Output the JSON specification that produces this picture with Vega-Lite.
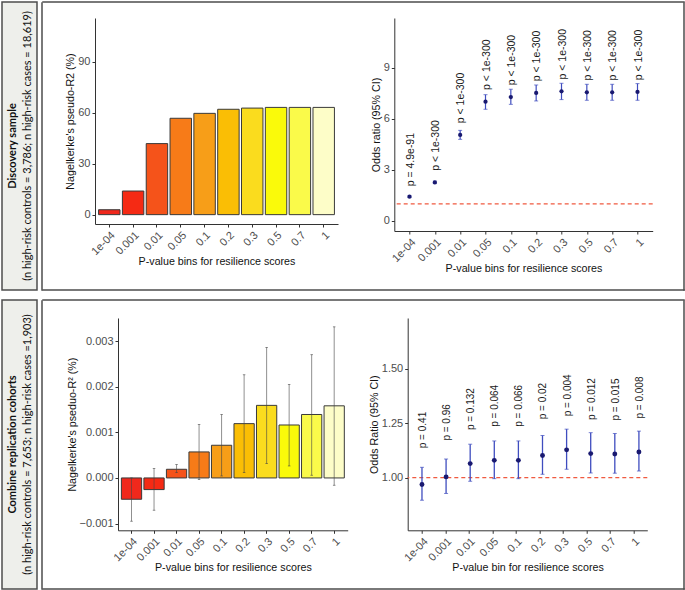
{
 "$schema": "https://vega.github.io/schema/vega-lite/v6.json",
 "padding": {"left": 1, "top": 1, "right": 1, "bottom": 1},
 "background": "white",
 "config": {
  "view": {"stroke": null},
  "font": "Liberation Sans",
  "axis": {"grid": false, "domainColor": "#333333", "tickColor": "#333333", "labelColor": "#4D4D4D", "labelFontSize": 11, "titleFontSize": 10.7, "titleFontWeight": "normal", "titleColor": "#111111", "tickSize": 3, "labelPadding": 2, "domainWidth": 1, "tickWidth": 1},
  "axisY": {"titlePadding": 2},
  "axisX": {"titlePadding": 0}
 },
 "datasets": {
  "tl": [
   {"bin": "1e-04", "r2": 2.9}, {"bin": "0.001", "r2": 13.9}, {"bin": "0.01", "r2": 41.8}, {"bin": "0.05", "r2": 56.7}, {"bin": "0.1", "r2": 59.6},
   {"bin": "0.2", "r2": 62.0}, {"bin": "0.3", "r2": 62.7}, {"bin": "0.5", "r2": 63.1}, {"bin": "0.7", "r2": 63.1}, {"bin": "1", "r2": 63.1}
  ],
  "tr": [
   {"bin": "1e-04", "or": 1.43, "lo": 1.38, "hi": 1.48, "label": "p = 4.9e-91"},
   {"bin": "0.001", "or": 2.27, "lo": 2.2, "hi": 2.34, "label": "p < 1e-300"},
   {"bin": "0.01", "or": 5.06, "lo": 4.8, "hi": 5.33, "label": "p < 1e-300"},
   {"bin": "0.05", "or": 7.02, "lo": 6.57, "hi": 7.43, "label": "p < 1e-300"},
   {"bin": "0.1", "or": 7.29, "lo": 6.86, "hi": 7.75, "label": "p < 1e-300"},
   {"bin": "0.2", "or": 7.53, "lo": 7.06, "hi": 8.0, "label": "p < 1e-300"},
   {"bin": "0.3", "or": 7.63, "lo": 7.14, "hi": 8.1, "label": "p < 1e-300"},
   {"bin": "0.5", "or": 7.57, "lo": 7.1, "hi": 8.04, "label": "p < 1e-300"},
   {"bin": "0.7", "or": 7.57, "lo": 7.1, "hi": 8.04, "label": "p < 1e-300"},
   {"bin": "1", "or": 7.59, "lo": 7.1, "hi": 8.08, "label": "p < 1e-300"}
  ],
  "bl": [
   {"bin": "1e-04", "r2": -0.000467, "lo": -0.000948, "hi": 0.0},
   {"bin": "0.001", "r2": -0.000255, "lo": -0.000707, "hi": 0.000205},
   {"bin": "0.01", "r2": 0.00019, "lo": 0.000118, "hi": 0.000293},
   {"bin": "0.05", "r2": 0.00057, "lo": -0.000036, "hi": 0.00117},
   {"bin": "0.1", "r2": 0.000716, "lo": 0.000044, "hi": 0.00139},
   {"bin": "0.2", "r2": 0.00119, "lo": 0.000118, "hi": 0.00226},
   {"bin": "0.3", "r2": 0.00159, "lo": 0.000315, "hi": 0.00286},
   {"bin": "0.5", "r2": 0.00116, "lo": 0.000263, "hi": 0.00205},
   {"bin": "0.7", "r2": 0.00139, "lo": 0.000059, "hi": 0.0027},
   {"bin": "1", "r2": 0.00158, "lo": -0.00016, "hi": 0.00331}
  ],
  "br": [
   {"bin": "1e-04", "or": 0.968, "lo": 0.896, "hi": 1.047, "label": "p = 0.41"},
   {"bin": "0.001", "or": 1.003, "lo": 0.927, "hi": 1.085, "label": "p = 0.96"},
   {"bin": "0.01", "or": 1.064, "lo": 0.983, "hi": 1.153, "label": "p = 0.132"},
   {"bin": "0.05", "or": 1.079, "lo": 0.995, "hi": 1.168, "label": "p = 0.064"},
   {"bin": "0.1", "or": 1.079, "lo": 0.995, "hi": 1.168, "label": "p = 0.066"},
   {"bin": "0.2", "or": 1.101, "lo": 1.015, "hi": 1.193, "label": "p = 0.02"},
   {"bin": "0.3", "or": 1.127, "lo": 1.038, "hi": 1.222, "label": "p = 0.004"},
   {"bin": "0.5", "or": 1.11, "lo": 1.021, "hi": 1.206, "label": "p = 0.012"},
   {"bin": "0.7", "or": 1.108, "lo": 1.02, "hi": 1.202, "label": "p = 0.015"},
   {"bin": "1", "or": 1.117, "lo": 1.03, "hi": 1.213, "label": "p = 0.008"}
  ],
  "ref": [{"ref": 1}],
  "strips": [
   {"row": 1, "title": "Discovery sample", "sub": "(n high-risk controls = 3,786; n high-risk cases = 18,619)"},
   {"row": 2, "title": "Combine replication cohorts", "sub": "(n high-risk controls = 7,653; n high-risk cases =1,903)"}
  ]
 },
 "vconcat": [
  {
   "hconcat": [
    {
     "width": 35, "height": 288,
     "view": {"stroke": "#4d4d4d", "strokeWidth": 1.5, "fill": "#EEEFEB"},
     "data": {"name": "strips"},
     "transform": [{"filter": "datum.row == 1"}],
     "layer": [
      {"mark": {"type": "text", "angle": 270, "align": "center", "baseline": "middle", "font": "Lato", "fontWeight": "bold", "fontSize": 11, "dy": -6.5, "color": "#111"}, "encoding": {"text": {"field": "title"}}},
      {"mark": {"type": "text", "angle": 270, "align": "center", "baseline": "middle", "font": "Lato", "fontSize": 11, "dy": 8.5, "color": "#111"}, "encoding": {"text": {"field": "sub"}}}
     ]
    },
    {
     "columns": 3, "align": "each", "bounds": "flush", "spacing": 0,
     "concat": [
      {"width": 0.001, "height": 0.001, "data": {"values": []}, "mark": "point"},
      {"width": 641, "height": 0.001, "view": {"stroke": "#4d4d4d", "strokeWidth": 1.5}, "data": {"values": []}, "mark": "point"},
      {"width": 0.001, "height": 0.001, "data": {"values": []}, "mark": "point"},
      {"width": 0.001, "height": 287, "view": {"stroke": "#4d4d4d", "strokeWidth": 1.5}, "data": {"values": []}, "mark": "point"},
      {
       "vconcat": [
        {"width": 0.001, "height": 15, "data": {"values": []}, "mark": "point"},
        {
         "hconcat": [
          {"width": 52, "height": 0.001, "data": {"values": []}, "mark": "point"},
          {
           "hconcat": [
            {
             "width": 243, "height": 206,
             "data": {"name": "tl"},
             "mark": {"type": "bar", "stroke": "#3a3a3a", "strokeWidth": 1},
             "encoding": {
              "x": {"field": "bin", "type": "nominal", "sort": null, "scale": {"type": "band", "paddingInner": 0.1, "paddingOuter": 0.15}, "axis": {"title": "P-value bins for resilience scores", "labelAngle": -45, "labelAlign": "right", "labelBaseline": "top"}},
              "y": {"field": "r2", "type": "quantitative", "scale": {"domain": [-5.5, 115.7], "nice": false, "zero": false}, "axis": {"values": [0, 30, 60, 90], "title": "Nagelkerke's pseudo-R2 (%)"}},
              "y2": {"datum": 0},
              "color": {"field": "bin", "type": "nominal", "sort": null, "legend": null, "scale": {"range": ["#F0281C", "#F52A14", "#F5531A", "#F77B18", "#F79E18", "#FABE05", "#FADC1E", "#FAFA0A", "#FAFA4A", "#FDFDC8"]}}
             }
            },
            {
             "width": 258.4, "height": 213,
             "layer": [
              {
               "data": {"name": "ref"},
               "mark": {"type": "rule", "color": "#F05A40", "strokeDash": [4, 3], "strokeWidth": 1.2},
               "encoding": {"y": {"field": "ref", "type": "quantitative", "title": "Odds ratio (95% CI)", "scale": {"domain": [-0.59, 11.94], "nice": false, "zero": false}, "axis": {"values": [0, 3, 6, 9]}}}
              },
              {
               "data": {"name": "tr"},
               "mark": {"type": "rule", "color": "#3F4DBF", "strokeWidth": 1.2},
               "encoding": {
                "x": {"field": "bin", "type": "nominal", "sort": null, "scale": {"type": "point", "padding": 0.6}, "axis": {"title": "P-value bins for resilience scores", "labelAngle": -45, "labelAlign": "right", "labelBaseline": "top"}},
                "y": {"field": "lo", "type": "quantitative", "title": "Odds ratio (95% CI)"},
                "y2": {"field": "hi"}
               }
              },
              {
               "data": {"name": "tr"},
               "mark": {"type": "tick", "color": "#3F4DBF", "size": 4, "thickness": 1},
               "encoding": {
                "x": {"field": "bin", "type": "nominal", "sort": null, "title": "P-value bins for resilience scores"},
                "y": {"field": "lo", "type": "quantitative", "title": "Odds ratio (95% CI)"}
               }
              },
              {
               "data": {"name": "tr"},
               "mark": {"type": "tick", "color": "#3F4DBF", "size": 4, "thickness": 1},
               "encoding": {
                "x": {"field": "bin", "type": "nominal", "sort": null, "title": "P-value bins for resilience scores"},
                "y": {"field": "hi", "type": "quantitative", "title": "Odds ratio (95% CI)"}
               }
              },
              {
               "data": {"name": "tr"},
               "mark": {"type": "point", "filled": true, "color": "#191970", "size": 18, "opacity": 1},
               "encoding": {
                "x": {"field": "bin", "type": "nominal", "sort": null, "title": "P-value bins for resilience scores"},
                "y": {"field": "or", "type": "quantitative", "title": "Odds ratio (95% CI)"}
               }
              },
              {
               "data": {"name": "tr"},
               "mark": {"type": "text", "angle": 270, "align": "center", "baseline": "middle", "dx": 37, "dy": 1, "fontSize": 10.5, "color": "#1a1a1a"},
               "encoding": {
                "x": {"field": "bin", "type": "nominal", "sort": null, "title": "P-value bins for resilience scores"},
                "y": {"field": "or", "type": "quantitative", "title": "Odds ratio (95% CI)"},
                "text": {"field": "label"}
               }
              }
             ]
            }
           ],
           "spacing": 56.3, "bounds": "flush"
          }
         ],
         "spacing": 0, "bounds": "flush"
        }
       ],
       "spacing": 0, "bounds": "flush"
      },
      {"width": 0.001, "height": 287, "view": {"stroke": "#4d4d4d", "strokeWidth": 1.5}, "data": {"values": []}, "mark": "point"},
      {"width": 0.001, "height": 0.001, "data": {"values": []}, "mark": "point"},
      {"width": 641, "height": 0.001, "view": {"stroke": "#4d4d4d", "strokeWidth": 1.5}, "data": {"values": []}, "mark": "point"},
      {"width": 0.001, "height": 0.001, "data": {"values": []}, "mark": "point"}
     ]
    }
   ],
   "spacing": 3
  },
  {
   "hconcat": [
    {
     "width": 35, "height": 289,
     "view": {"stroke": "#4d4d4d", "strokeWidth": 1.5, "fill": "#EEEFEB"},
     "data": {"name": "strips"},
     "transform": [{"filter": "datum.row == 2"}],
     "layer": [
      {"mark": {"type": "text", "angle": 270, "align": "center", "baseline": "middle", "font": "Lato", "fontWeight": "bold", "fontSize": 11, "dy": -6.5, "color": "#111"}, "encoding": {"text": {"field": "title"}}},
      {"mark": {"type": "text", "angle": 270, "align": "center", "baseline": "middle", "font": "Lato", "fontSize": 11, "dy": 8.5, "color": "#111"}, "encoding": {"text": {"field": "sub"}}}
     ]
    },
    {
     "columns": 3, "align": "each", "bounds": "flush", "spacing": 0,
     "concat": [
      {"width": 0.001, "height": 0.001, "data": {"values": []}, "mark": "point"},
      {"width": 641, "height": 0.001, "view": {"stroke": "#4d4d4d", "strokeWidth": 1.5}, "data": {"values": []}, "mark": "point"},
      {"width": 0.001, "height": 0.001, "data": {"values": []}, "mark": "point"},
      {"width": 0.001, "height": 288, "view": {"stroke": "#4d4d4d", "strokeWidth": 1.5}, "data": {"values": []}, "mark": "point"},
      {
       "vconcat": [
        {"width": 0.001, "height": 17, "data": {"values": []}, "mark": "point"},
        {
         "hconcat": [
          {"width": 75, "height": 0.001, "data": {"values": []}, "mark": "point"},
          {
           "hconcat": [
            {
             "width": 229.7, "height": 212.3,
             "data": {"name": "bl"},
             "encoding": {
              "x": {"field": "bin", "type": "nominal", "sort": null, "scale": {"type": "band", "paddingInner": 0.1, "paddingOuter": 0.15}, "axis": {"title": "P-value bins for resilience scores", "labelAngle": -45, "labelAlign": "right", "labelBaseline": "top"}}
             },
             "layer": [
              {
               "mark": {"type": "bar", "stroke": "#3a3a3a", "strokeWidth": 1},
               "encoding": {
                "y": {"field": "r2", "type": "quantitative", "title": "Nagelkerke's pseduo-R² (%)", "scale": {"domain": [-0.001147, 0.003504], "nice": false, "zero": false}, "axis": {"values": [-0.001, 0, 0.001, 0.002, 0.003], "format": ".3f"}},
                "y2": {"datum": 0},
                "color": {"field": "bin", "type": "nominal", "sort": null, "legend": null, "scale": {"range": ["#F0281C", "#F52A14", "#F5531A", "#F77B18", "#F79E18", "#FABE05", "#FADC1E", "#FAFA0A", "#FAFA4A", "#FDFDC8"]}}
               }
              },
              {
               "mark": {"type": "rule", "color": "#444444", "strokeWidth": 0.8, "opacity": 0.75},
               "encoding": {"y": {"field": "lo", "type": "quantitative", "title": "Nagelkerke's pseduo-R² (%)"}, "y2": {"field": "hi"}}
              },
              {
               "mark": {"type": "tick", "color": "#444444", "size": 2.5, "thickness": 0.8, "opacity": 0.75},
               "encoding": {"y": {"field": "lo", "type": "quantitative", "title": "Nagelkerke's pseduo-R² (%)"}}
              },
              {
               "mark": {"type": "tick", "color": "#444444", "size": 2.5, "thickness": 0.8, "opacity": 0.75},
               "encoding": {"y": {"field": "hi", "type": "quantitative", "title": "Nagelkerke's pseduo-R² (%)"}}
              }
             ]
            },
            {
             "width": 239.6, "height": 212.3,
             "resolve": {"scale": {"x": "independent"}, "axis": {"x": "independent"}},
             "layer": [
              {
               "data": {"name": "br"},
               "mark": {"type": "point", "opacity": 0},
               "encoding": {
                "x": {"field": "bin", "type": "nominal", "sort": null, "scale": {"type": "point", "padding": 0.6}, "axis": {"title": "P-value bin for resilience scores", "labelAngle": -45, "labelAlign": "right", "labelBaseline": "top"}}
               }
              },
              {
               "layer": [
                {
                 "data": {"name": "ref"},
                 "mark": {"type": "rule", "color": "#F05A40", "strokeDash": [4, 3], "strokeWidth": 1.2},
                 "encoding": {"y": {"field": "ref", "type": "quantitative", "title": "Odds Ratio (95% CI)", "scale": {"domain": [0.758, 1.732], "nice": false, "zero": false}, "axis": {"values": [1, 1.25, 1.5], "format": ".2f"}}}
                },
                {
                 "data": {"name": "br"},
                 "mark": {"type": "rule", "color": "#3F4DBF", "strokeWidth": 1.3},
                 "encoding": {
                  "x": {"field": "bin", "type": "nominal", "sort": null, "scale": {"type": "point", "padding": 0.47, "align": 0.63}, "axis": null},
                  "y": {"field": "lo", "type": "quantitative", "title": "Odds Ratio (95% CI)"},
                  "y2": {"field": "hi"}
                 }
                },
                {
                 "data": {"name": "br"},
                 "mark": {"type": "tick", "color": "#3F4DBF", "size": 4, "thickness": 1},
                 "encoding": {
                  "x": {"field": "bin", "type": "nominal", "sort": null, "axis": null},
                  "y": {"field": "lo", "type": "quantitative", "title": "Odds Ratio (95% CI)"}
                 }
                },
                {
                 "data": {"name": "br"},
                 "mark": {"type": "tick", "color": "#3F4DBF", "size": 4, "thickness": 1},
                 "encoding": {
                  "x": {"field": "bin", "type": "nominal", "sort": null, "axis": null},
                  "y": {"field": "hi", "type": "quantitative", "title": "Odds Ratio (95% CI)"}
                 }
                },
                {
                 "data": {"name": "br"},
                 "mark": {"type": "point", "filled": true, "color": "#191970", "size": 24, "opacity": 1},
                 "encoding": {
                  "x": {"field": "bin", "type": "nominal", "sort": null, "axis": null},
                  "y": {"field": "or", "type": "quantitative", "title": "Odds Ratio (95% CI)"}
                 }
                },
                {
                 "data": {"name": "br"},
                 "mark": {"type": "text", "angle": 270, "align": "center", "baseline": "middle", "dx": 54.5, "dy": 1, "fontSize": 10, "color": "#1a1a1a"},
                 "encoding": {
                  "x": {"field": "bin", "type": "nominal", "sort": null, "axis": null},
                  "y": {"field": "or", "type": "quantitative", "title": "Odds Ratio (95% CI)"},
                  "text": {"field": "label"}
                 }
                }
               ]
              }
             ]
            }
           ],
           "spacing": 59.7, "bounds": "flush"
          }
         ],
         "spacing": 0, "bounds": "flush"
        }
       ],
       "spacing": 0, "bounds": "flush"
      },
      {"width": 0.001, "height": 288, "view": {"stroke": "#4d4d4d", "strokeWidth": 1.5}, "data": {"values": []}, "mark": "point"},
      {"width": 0.001, "height": 0.001, "data": {"values": []}, "mark": "point"},
      {"width": 641, "height": 0.001, "view": {"stroke": "#4d4d4d", "strokeWidth": 1.5}, "data": {"values": []}, "mark": "point"},
      {"width": 0.001, "height": 0.001, "data": {"values": []}, "mark": "point"}
     ]
    }
   ],
   "spacing": 3
  }
 ],
 "spacing": 8
}
